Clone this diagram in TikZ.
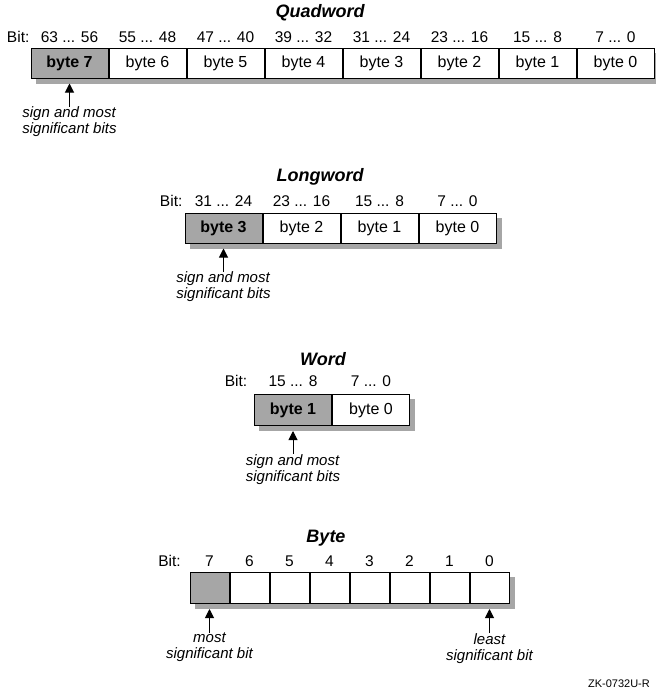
\documentclass[tikz,border=0pt]{standalone}
\usepackage{fontspec}
\setmainfont{Liberation Sans}
\usetikzlibrary{positioning,calc,arrows.meta,backgrounds}

\begin{document}
\begin{tikzpicture}[
    x=1pt, y=-1pt,
    cell/.style={draw, fill=white, line width=1pt, minimum width=77pt, minimum height=30pt, inner sep=0pt, font=\fontsize{16}{18}\selectfont},
    msb/.style={cell, fill=black!35, font=\fontsize{16}{18}\selectfont\bfseries},
    bitcell/.style={cell, minimum width=39pt, minimum height=31pt},
    bits/.style={inner sep=0pt, text height=11pt, text depth=0pt, font=\fontsize{15.5}{18}\selectfont},
    heading/.style={inner sep=0pt, anchor=base, font=\fontsize{18}{20}\selectfont\bfseries\itshape},
    note/.style={inner sep=0pt, align=left, font=\fontsize{15}{16}\selectfont\itshape},
    pointer/.style={-{Triangle[width=9pt,length=9pt]}, line width=1pt},
    dropshade/.style={fill=black!35}
]
    \useasboundingbox (0,0) rectangle (656,691);

    % Quadword
    \node[heading] (qtitle) at (320,17) {Quadword};
    \node[msb] (q7) at (69.5,63) {byte 7};
    \node[cell, right=0pt of q7] (q6) {byte 6};
    \node[cell, right=0pt of q6] (q5) {byte 5};
    \node[cell, right=0pt of q5] (q4) {byte 4};
    \node[cell, right=0pt of q4] (q3) {byte 3};
    \node[cell, right=0pt of q3] (q2) {byte 2};
    \node[cell, right=0pt of q2] (q1) {byte 1};
    \node[cell, right=0pt of q1] (q0) {byte 0};
    \node[bits, above=5pt of q7] (bq7) {63 ... 56};
    \node[bits, above=5pt of q6] (bq6) {55 ... 48};
    \node[bits, above=5pt of q5] (bq5) {47 ... 40};
    \node[bits, above=5pt of q4] (bq4) {39 ... 32};
    \node[bits, above=5pt of q3] (bq3) {31 ... 24};
    \node[bits, above=5pt of q2] (bq2) {23 ... 16};
    \node[bits, above=5pt of q1] (bq1) {15 ... 8};
    \node[bits, above=5pt of q0] (bq0) {7 ... 0};
    \node[bits, left=11pt of bq7] (qbit) {Bit:};
    \node[note, below=28pt of q7] (qnote) {sign and most\\significant bits};
    \coordinate[below=5pt of q7] (qtip);
    \draw[pointer] (qnote) -- (qtip);

    % Longword
    \node[heading] (ltitle) at (320,181) {Longword};
    \node[msb] (l3) at (223.5,228) {byte 3};
    \node[cell, right=0pt of l3] (l2) {byte 2};
    \node[cell, right=0pt of l2] (l1) {byte 1};
    \node[cell, right=0pt of l1] (l0) {byte 0};
    \node[bits, above=6pt of l3] (bl3) {31 ... 24};
    \node[bits, above=6pt of l2] (bl2) {23 ... 16};
    \node[bits, above=6pt of l1] (bl1) {15 ... 8};
    \node[bits, above=6pt of l0] (bl0) {7 ... 0};
    \node[bits, left=12pt of bl3] (lbit) {Bit:};
    \node[note, below=28pt of l3] (lnote) {sign and most\\significant bits};
    \coordinate[below=5pt of l3] (ltip);
    \draw[pointer] (lnote) -- (ltip);

    % Word
    \node[heading] (wtitle) at (323,365) {Word};
    \node[msb, minimum height=31pt] (w1) at (293,410) {byte 1};
    \node[cell, minimum height=31pt, right=0pt of w1] (w0) {byte 0};
    \node[bits, above=7pt of w1] (bw1) {15 ... 8};
    \node[bits, above=7pt of w0] (bw0) {7 ... 0};
    \node[bits, left=21pt of bw1] (wbit) {Bit:};
    \node[note, below=28pt of w1] (wnote) {sign and most\\significant bits};
    \coordinate[below=5pt of w1] (wtip);
    \draw[pointer] (wnote) -- (wtip);

    % Byte
    \node[heading] (ytitle) at (326,542) {Byte};
    \node[bitcell, fill=black!35] (y7) at (209.5,588) {};
    \node[bitcell, right=0pt of y7] (y6) {};
    \node[bitcell, right=0pt of y6] (y5) {};
    \node[bitcell, right=0pt of y5] (y4) {};
    \node[bitcell, right=0pt of y4] (y3) {};
    \node[bitcell, right=0pt of y3] (y2) {};
    \node[bitcell, right=0pt of y2] (y1) {};
    \node[bitcell, right=0pt of y1] (y0) {};
    \node[bits, above=5pt of y7] (by7) {7};
    \node[bits, above=5pt of y6] (by6) {6};
    \node[bits, above=5pt of y5] (by5) {5};
    \node[bits, above=5pt of y4] (by4) {4};
    \node[bits, above=5pt of y3] (by3) {3};
    \node[bits, above=5pt of y2] (by2) {2};
    \node[bits, above=5pt of y1] (by1) {1};
    \node[bits, above=5pt of y0] (by0) {0};
    \node[bits, left=24pt of by7] (ybit) {Bit:};
    \node[note, align=center, below=29pt of y7] (ynote7) {most\\significant bit};
    \node[note, align=center, below=29pt of y0] (ynote0) {least\\significant bit};
    \coordinate[below=5pt of y7] (ytip7);
    \coordinate[below=5pt of y0] (ytip0);
    \draw[pointer] (ynote7) -- (ytip7);
    \draw[pointer] (ynote0) -- (ytip0);

    % Drop shadows
    \begin{scope}[on background layer]
        \fill[dropshade] ($(q7.north west)+(5pt,-5pt)$) rectangle ($(q0.south east)+(5pt,-5pt)$);
        \fill[dropshade] ($(l3.north west)+(5pt,-5pt)$) rectangle ($(l0.south east)+(5pt,-5pt)$);
        \fill[dropshade] ($(w1.north west)+(5pt,-5pt)$) rectangle ($(w0.south east)+(5pt,-5pt)$);
        \fill[dropshade] ($(y7.north west)+(5pt,-5pt)$) rectangle ($(y0.south east)+(5pt,-5pt)$);
    \end{scope}

    % Figure code
    \node[anchor=base east, inner sep=0pt, font=\fontsize{11}{13}\selectfont] (zk) at (650,687) {ZK-0732U-R};
\end{tikzpicture}
\end{document}
